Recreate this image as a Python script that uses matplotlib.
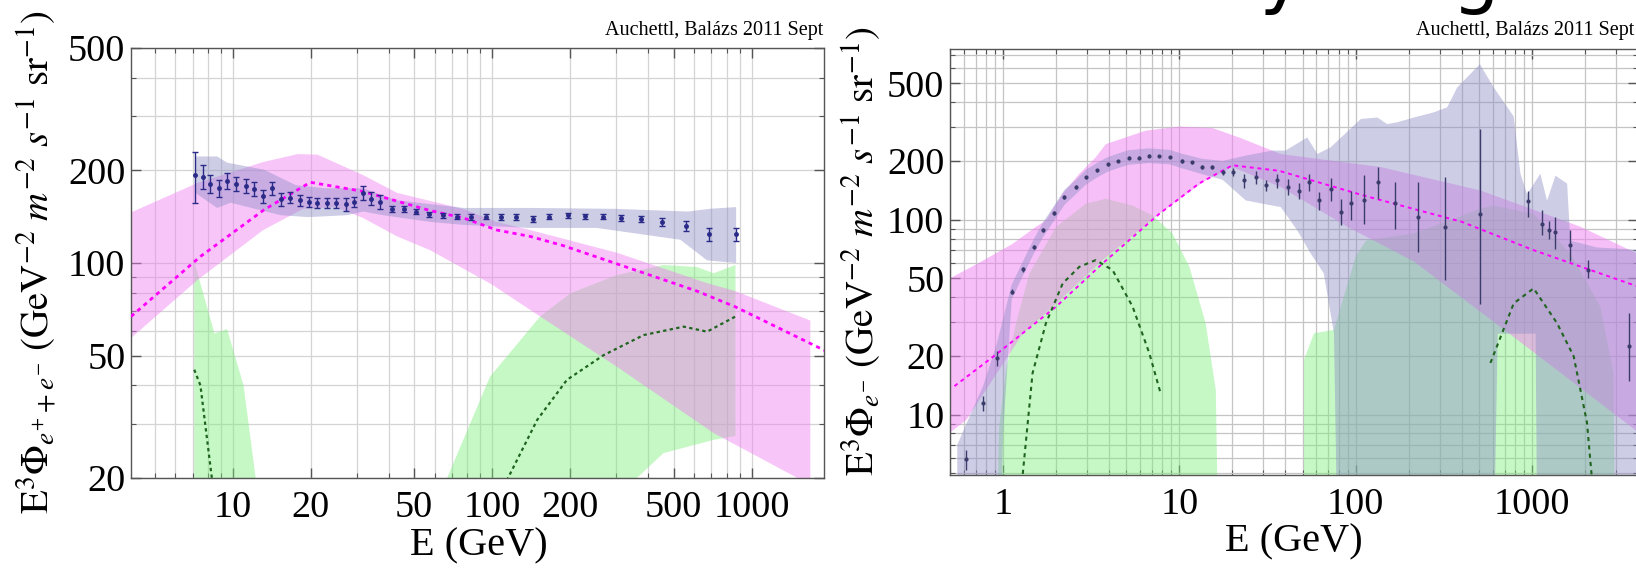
import matplotlib
matplotlib.use("Agg")
import matplotlib.pyplot as plt
from matplotlib.ticker import FixedLocator, FixedFormatter, LogLocator, NullFormatter

plt.rcParams["font.family"] = ["Liberation Serif", "DejaVu Serif"]
plt.rcParams["mathtext.fontset"] = "stix"

# ---------------- left panel: e+ + e- ----------------
# data points (Fermi-like) and relative errors
l_E = [7.17, 7.67, 8.18, 8.81, 9.5, 10.3, 11.2, 12.1, 13.1, 14.2,
       15.3, 16.6, 18.1, 19.6, 21.2, 23.1, 25.0, 27.2, 29.2, 31.7,
       34.1, 37.0, 41.0, 45.5, 50.8, 57.2, 64.4, 73.2, 82.9, 94.9,
       108, 124, 143, 166, 195, 228, 267, 313, 374, 451,
       557, 682, 871]
l_flux = [193, 191, 181, 175, 185, 181, 178, 174, 165, 175,
          161, 163, 160, 158, 157, 157, 157, 155, 158, 169,
          162, 158, 150, 150, 147, 144, 143, 141.6, 141, 141.6,
          141, 141, 139, 141.6, 143, 142, 141.6, 140, 139, 136,
          132, 124, 124]
l_relerr = [0.19, 0.09, 0.07, 0.06, 0.06, 0.05, 0.05, 0.05, 0.05, 0.05,
            0.05, 0.04, 0.04, 0.04, 0.04, 0.04, 0.04, 0.05, 0.04, 0.05,
            0.05, 0.05, 0.02, 0.02, 0.02, 0.02, 0.02, 0.02, 0.02, 0.02,
            0.02, 0.02, 0.02, 0.02, 0.02, 0.02, 0.02, 0.025, 0.025, 0.03,
            0.035, 0.05, 0.05]

# fit band (magenta)
l_pink_up_E = [4.05, 7.3, 13.1, 17.8, 21.2, 31.8, 43, 77, 104, 140, 302, 673, 866, 1683]
l_pink_up = [146, 182, 213, 226, 225, 193, 169, 150, 136, 128, 108, 86, 81, 65]
l_pink_lo_E = [4.05, 7.3, 13.1, 18.7, 25, 31.8, 43, 57.7, 100, 153, 302, 713, 1683]
l_pink_lo = [57, 88, 128, 150, 152, 140, 122, 110, 85, 67, 46, 28, 19]

# data band (lavender)
l_lav_up_E = [7.17, 8.7, 9.5, 13.2, 17.5, 22.7, 31.8, 42.7, 77.6, 140, 296, 570, 687, 871]
l_lav_up = [222, 222, 212, 201, 179, 175, 175, 160, 151, 151, 150, 147, 150, 152]
l_lav_lo_E = [7.17, 8.7, 9.8, 15.3, 19.5, 27.5, 31.8, 38, 57.7, 77.6, 140, 253, 531, 673, 871]
l_lav_lo = [169, 151, 157, 143, 141, 143, 147, 143, 136, 133, 130, 130, 119, 102, 100]

# source bands (green)
l_g1_E = [7.1, 7.1, 8.5, 9.5, 11.0, 12.8, 12.8]
l_g1 = [1, 101, 59, 61, 40, 15, 1]
l_g2_up_E = [58, 67, 98, 153, 200, 302, 457, 616, 713, 866]
l_g2_up = [14, 20, 42.7, 67, 79.7, 91.4, 98.5, 97, 92.6, 98.5]
l_g2_lo_E = [58, 320, 361, 457, 713, 866]
l_g2_lo = [14, 15, 20, 24.1, 26.6, 27.4]

# best-fit curves
l_fit_E = [4.05, 7.5, 13.2, 19.9, 31.6, 57.7, 77.6, 104, 140, 187, 341, 616, 866, 1953]
l_fit = [67, 105, 149, 183, 171, 148, 140, 128, 122, 114, 96, 81, 72, 51.5]
l_src1_E = [7.1, 7.5, 8.3, 8.6]
l_src1 = [45, 40, 20, 15]
l_src2_E = [108, 115, 149, 194, 269, 383, 547, 673, 866]
l_src2 = [17, 20, 30.9, 41.7, 50.2, 58.3, 62.1, 59.8, 67]

# ---------------- right panel: e- ----------------
r_E = [0.62, 0.77, 0.92, 1.12, 1.29, 1.49, 1.69, 1.95, 2.23, 2.59,
       2.95, 3.40, 3.92, 4.47, 5.15, 5.87, 6.75, 7.69, 8.84, 10.3,
       11.8, 13.5, 15.4, 17.6, 20.2, 23.3, 27.1, 30.9, 36.0, 41.4,
       47.8, 54.4, 62, 72.2, 83, 94.5, 111.5, 133.7, 168, 225,
       323, 507, 949, 1143, 1247, 1361, 1641, 2075, 3550]
r_flux = [5.9, 11.5, 19.5, 42.7, 55.5, 72.5, 88.9, 108, 130, 147,
          165, 179, 192, 200, 208, 208, 213, 212, 209, 200,
          197, 186, 186, 175, 175, 159, 165, 150, 159, 147,
          141, 156, 125.5, 144, 109.5, 121, 125.5, 156, 121, 103,
          92, 107, 125, 95, 88, 86.5, 74, 55, 22.4]
r_hi = [6.6, 12.4, 21.1, 44, 57, 74.5, 91, 111, 133, 150,
        168, 182, 195, 203, 211, 211, 216, 215, 212, 204,
        201, 190, 190, 180, 183, 172, 178, 160, 172, 162,
        155, 172, 138, 164, 128, 140, 168.5, 187, 156, 156,
        165, 292, 141, 112, 98, 103, 88, 62, 33]
r_lo = [5.2, 10.4, 17.7, 41.4, 54, 70.5, 86.8, 105, 127, 144,
        162, 176, 189, 197, 205, 205, 210, 209, 206, 196,
        193, 182, 182, 170, 167, 146, 152, 140, 146, 133,
        128, 141, 112, 125, 94, 100, 95.4, 128, 90, 68,
        49, 37, 103, 83, 80, 71, 61, 50, 14.8]

r_pink_up_E = [0.5, 0.73, 1.13, 1.54, 1.75, 2.18, 2.71, 3.36, 3.83, 6.46,
               10, 15.4, 21.8, 37.6, 139, 511, 1883, 4100]
r_pink_up = [50, 60, 75, 92, 99, 136, 172, 209, 244, 286,
             300, 295, 264, 217, 186, 141, 92, 66]
r_pink_lo_E = [0.47, 0.62, 0.95, 1.29, 2.0, 3.67, 7.69, 14.1, 20, 37.6, 89.7, 214, 789, 4100]
r_pink_lo = [7.75, 9.4, 17, 26, 37, 62, 107, 159, 186, 147, 92, 61, 25, 8]

r_lav_up_E = [0.55, 0.62, 0.77, 0.92, 1.12, 1.29, 1.49, 1.69, 1.95, 2.23,
              2.59, 2.95, 3.4, 3.92, 4.47, 5.15, 6.75, 8.84, 10.3, 13.5,
              17.6, 23.8, 33.7, 40, 53.2, 60.7, 72.2, 107, 133, 151,
              173, 214, 278, 331, 377, 507, 608, 789, 861, 940,
              1117, 1219, 1361, 1585, 1652, 2340, 4100]
r_lav_up = [7, 9, 14, 23, 46.5, 60.5, 79, 97, 118, 142,
            160, 180, 195, 209, 218, 227, 232, 228, 218, 205,
            200, 213, 226, 226, 264, 217, 235, 328, 334, 309,
            316, 334, 355, 377, 476, 627, 476, 338, 172, 135,
            172, 125, 168, 153, 78, 72, 70]
r_lav_lo_E = [0.55, 0.95, 1.0, 1.12, 1.29, 1.49, 1.69, 1.95, 2.23, 2.59,
              2.95, 3.4, 3.92, 4.47, 5.15, 6.75, 8.84, 10.3, 13.5, 17.6,
              23.8, 29.6, 37.6, 46.7, 55.6, 66, 75.4, 80, 600, 640,
              1050, 1080, 4100]
r_lav_lo = [1, 1, 8, 39, 51, 66.5, 81.5, 99, 119, 135,
            151, 164, 176, 183.5, 191, 195, 192, 183.5, 171, 160,
            125.5, 120.7, 116, 88, 67, 53, 26, 1, 1, 26,
            26, 1, 1]

r_g1_E = [0.9, 0.95, 1.04, 1.185, 1.41, 2.0, 2.95, 3.83, 5.43, 7.05, 9.15, 11.4, 14.1, 16.1, 16.9]
r_g1 = [1, 8.7, 17, 29.4, 53, 91.7, 120.7, 128, 118, 105, 84.8, 57.3, 29.4, 13.4, 1]
r_g2_E = [51, 51, 58, 75.4, 100, 114.5, 214, 331, 511, 608, 1023, 1652, 2443, 2904, 2980]
r_g2 = [1, 19.1, 26.1, 27.2, 64.5, 78, 85, 98, 114, 118, 107, 67, 35.8, 16.3, 1]

r_fit_E = [0.53, 0.91, 2.0, 3.67, 7.69, 12.9, 20, 36.8, 111, 402, 1023, 4100]
r_fit = [14, 20.3, 35.8, 59.6, 107, 153, 190, 178, 133, 97.3, 69.7, 45]
r_src1_E = [1.28, 1.47, 1.75, 2.18, 2.71, 3.36, 4.18, 5.43, 6.75, 7.86]
r_src1 = [4.5, 16.3, 29.4, 47.1, 57.3, 62, 55.1, 35.8, 20.7, 12.7]
r_src2_E = [582, 789, 1023, 1390, 1727, 2054, 2200]
r_src2 = [18.4, 37.2, 44.4, 29.4, 19.9, 9.1, 4.5]

PINK = "#f080f0"
LAV = "#9090c8"
GREEN = "#80f080"
MAGENTA = "#ff00ff"
DKGREEN = "#1f641f"


def band(ax, xu, yu, xl=None, yl=None, color=PINK, alpha=0.45):
    xs = list(xu)
    ys = list(yu)
    if xl is not None:
        xs += list(xl)[::-1]
        ys += list(yl)[::-1]
    ax.fill(xs, ys, color=color, alpha=alpha, lw=0, zorder=2)


def frame(ax, xlim, ylim, xt, yt, gridcol):
    ax.set_xscale("log")
    ax.set_yscale("log")
    ax.set_xlim(xlim)
    ax.set_ylim(ylim)
    ax.xaxis.set_major_locator(FixedLocator(xt))
    ax.xaxis.set_major_formatter(FixedFormatter([str(t) for t in xt]))
    ax.yaxis.set_major_locator(FixedLocator(yt))
    ax.yaxis.set_major_formatter(FixedFormatter([str(t) for t in yt]))
    for a in (ax.xaxis, ax.yaxis):
        a.set_minor_locator(LogLocator(base=10, subs=range(1, 10), numticks=30))
        a.set_minor_formatter(NullFormatter())
    ax.grid(which="both", color=gridcol, lw=0.9, zorder=0)
    ax.set_axisbelow(True)
    ax.tick_params(which="both", direction="in", top=True, right=True,
                   color="#555555", labelsize=27.5)
    ax.tick_params(which="major", length=7, width=1)
    ax.tick_params(which="minor", length=3.5, width=0.8)
    ax.tick_params(axis="x", pad=9)
    ax.tick_params(axis="y", pad=4)
    for s in ax.spines.values():
        s.set_color("#555555")
        s.set_linewidth(1.0)


fig = plt.figure(figsize=(16.36, 5.74), dpi=100)
axL = fig.add_axes([131 / 1636, 96 / 574, 693 / 1636, 430 / 574])
axR = fig.add_axes([950 / 1636, 99 / 574, 688 / 1636, 426 / 574])

# left panel
frame(axL, (4.05, 1900), (20, 500), [10, 20, 50, 100, 200, 500, 1000],
      [20, 50, 100, 200, 500], "#d4d4d4")
band(axL, l_g1_E, l_g1, color=GREEN)
band(axL, l_g2_up_E, l_g2_up, l_g2_lo_E, l_g2_lo, color=GREEN)
band(axL, l_pink_up_E, l_pink_up, l_pink_lo_E, l_pink_lo, color=PINK)
band(axL, l_lav_up_E, l_lav_up, l_lav_lo_E, l_lav_lo, color=LAV)
axL.plot(l_fit_E, l_fit, color=MAGENTA, lw=2, ls=(0, (1.5, 1.5)), zorder=4)
axL.plot(l_src1_E, l_src1, color=DKGREEN, lw=1.6, ls=(0, (1.5, 1.5)), zorder=4)
axL.plot(l_src2_E, l_src2, color=DKGREEN, lw=1.6, ls=(0, (1.5, 1.5)), zorder=4)
l_err = [f * e for f, e in zip(l_flux, l_relerr)]
axL.errorbar(l_E, l_flux, yerr=l_err, fmt="o", ms=2.5, color="#2a2a88",
             elinewidth=1, capsize=2, capthick=1, zorder=5)

# right panel
frame(axR, (0.5, 4000), (4.9, 750), [1, 10, 100, 1000],
      [10, 20, 50, 100, 200, 500], "#c4c4c4")
band(axR, r_g1_E, r_g1, color=GREEN)
band(axR, r_g2_E, r_g2, color=GREEN)
band(axR, r_pink_up_E, r_pink_up, r_pink_lo_E, r_pink_lo, color=PINK, alpha=0.5)
band(axR, r_lav_up_E, r_lav_up, r_lav_lo_E, r_lav_lo, color=LAV)
axR.plot(r_fit_E, r_fit, color=MAGENTA, lw=1.4, ls=(0, (2, 2)), zorder=4)
axR.plot(r_src1_E, r_src1, color=DKGREEN, lw=1.5, ls=(0, (2, 2)), zorder=4)
axR.plot(r_src2_E, r_src2, color=DKGREEN, lw=1.5, ls=(0, (2, 2)), zorder=4)
r_yerr = [[v - lo for v, lo in zip(r_flux, r_lo)], [hi - v for v, hi in zip(r_flux, r_hi)]]
axR.errorbar(r_E, r_flux, yerr=r_yerr, fmt="o", ms=2, color="#3c3c6c",
             elinewidth=1, capsize=0, zorder=5)

# axis labels
fig.text(479 / 1636, 1 - 546 / 574, "E (GeV)", ha="center", va="center", fontsize=29)
fig.text(1294 / 1636, 1 - 542 / 574, "E (GeV)", ha="center", va="center", fontsize=29)
fig.text(37 / 1636, 1 - 262 / 574,
         r"$\mathrm{E}^3\Phi_{e^{+}+e^{-}}\ (\mathrm{GeV}^{-2}\ m^{-2}\ s^{-1}\ \mathrm{sr}^{-1})$",
         rotation=90, ha="center", va="center", fontsize=28)
fig.text(862 / 1636, 1 - 251 / 574,
         r"$\mathrm{E}^3\Phi_{e^{-}}\ (\mathrm{GeV}^{-2}\ m^{-2}\ s^{-1}\ \mathrm{sr}^{-1})$",
         rotation=90, ha="center", va="center", fontsize=28)

# credits
fig.text(823 / 1636, 1 - 31 / 574, "Auchettl, Balázs 2011 Sept", ha="right",
         va="center", fontsize=14.5)
fig.text(1634 / 1636, 1 - 31 / 574, "Auchettl, Balázs 2011 Sept", ha="right",
         va="center", fontsize=14.5)

# slide heading running off the top edge: only the descenders show
fig.text(1212 / 1636, 1 - 15 / 574, "by range", ha="left", va="bottom",
         fontsize=54, family="DejaVu Sans")

fig.savefig("out.png", dpi=100)
